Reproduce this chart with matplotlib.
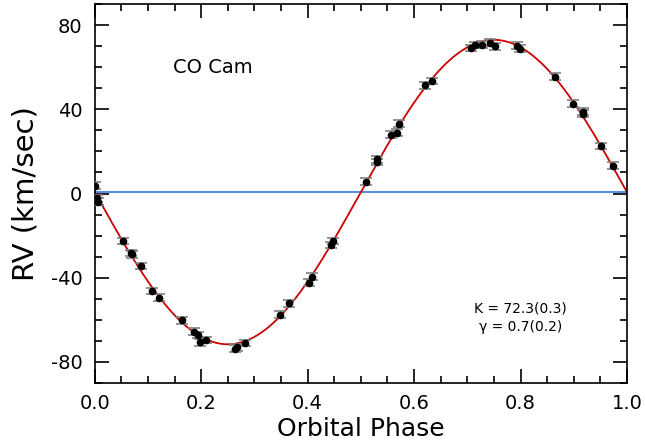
import numpy as np
import matplotlib.pyplot as plt
from matplotlib.ticker import MultipleLocator

plt.rcParams['axes.unicode_minus'] = False

phase = [0.000, 0.005, 0.006, 0.053, 0.068, 0.070, 0.086, 0.108, 0.121, 0.164,
         0.187, 0.194, 0.198, 0.209, 0.263, 0.267, 0.282, 0.348, 0.365, 0.402,
         0.409, 0.444, 0.448, 0.509, 0.530, 0.531, 0.556, 0.568, 0.572, 0.621,
         0.634, 0.707, 0.715, 0.728, 0.743, 0.752, 0.794, 0.799, 0.865, 0.898,
         0.917, 0.918, 0.952, 0.974]
rv = [3.7, -2.3, -3.9, -22.6, -28.3, -28.9, -34.4, -46.3, -49.5, -60.2,
      -65.6, -67.2, -70.7, -69.6, -73.7, -73.0, -71.0, -57.5, -52.1, -42.3,
      -39.5, -24.5, -22.6, 5.6, 16.2, 15.0, 27.9, 28.9, 33.1, 51.4,
      53.4, 69.1, 70.5, 70.7, 71.6, 70.0, 70.2, 68.8, 55.5, 42.6,
      38.8, 37.9, 22.6, 13.2]
rv_err = 1.6

K = 72.3
gamma = 0.7

fig = plt.figure(figsize=(6.45, 4.48), dpi=100)
ax = fig.add_axes([0.147, 0.145, 0.825, 0.846])

ph = np.linspace(0, 1, 400)
ax.plot(ph, gamma - K * np.sin(2 * np.pi * ph), color='#cc0000', lw=1.3, zorder=2)
ax.axhline(gamma, color='#3a78e0', lw=1.2, zorder=1)
ax.errorbar(phase, rv, yerr=rv_err, fmt='o', color='black', ms=4.5,
            ecolor='#808080', elinewidth=1, capsize=4, capthick=1.2, zorder=3)

ax.set_xlim(0, 1)
ax.set_ylim(-90, 90)
ax.xaxis.set_major_locator(MultipleLocator(0.2))
ax.xaxis.set_minor_locator(MultipleLocator(0.05))
ax.yaxis.set_major_locator(MultipleLocator(40))
ax.yaxis.set_minor_locator(MultipleLocator(10))
ax.xaxis.set_major_formatter(plt.FuncFormatter(lambda v, p: f'{v:.1f}'))
ax.tick_params(which='both', direction='in', top=True, right=True,
               labelsize=14, width=1.2)
ax.tick_params(which='major', length=10)
ax.tick_params(which='minor', length=5)
ax.tick_params(axis='x', pad=8)
ax.tick_params(axis='y', pad=9)
for s in ax.spines.values():
    s.set_linewidth(1.2)

ax.set_xlabel('Orbital Phase', fontsize=18, labelpad=3)
ax.set_ylabel('RV (km/sec)', fontsize=21, labelpad=8)

ax.text(0.222, 60, 'CO Cam', fontsize=14, ha='center', va='center')
ax.text(0.80, -54.4, 'K = 72.3(0.3)', fontsize=10, ha='center', va='center')
ax.text(0.80, -63.4, '\u03b3 = 0.7(0.2)', fontsize=10, ha='center', va='center')

fig.savefig('out.png', dpi=100)
